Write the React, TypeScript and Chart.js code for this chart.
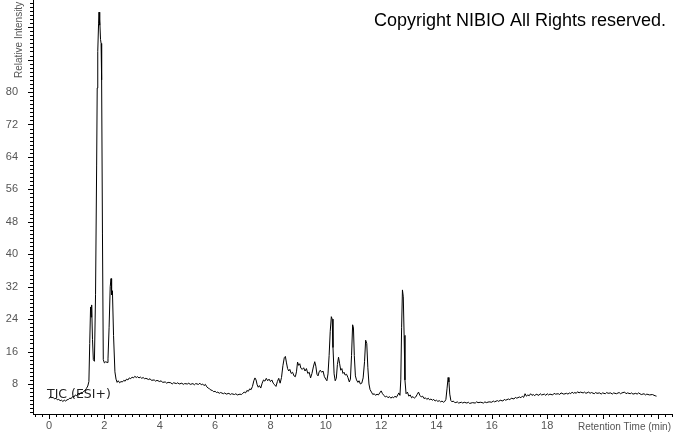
import React, { useEffect, useRef } from 'react';
import { Chart, registerables } from 'chart.js';

Chart.register(...registerables);

// [retention time (min), relative intensity]
const earlyBaseline: [number, number][] = [
  [0.0, 4.4], [0.05, 4.9], [0.1, 4.6], [0.15, 4.7], [0.2, 4.3], [0.25, 4.5], [0.3, 4.1], [0.35, 4.2],
  [0.4, 3.9], [0.45, 4.0], [0.5, 3.7], [0.55, 4.0], [0.6, 3.8], [0.65, 4.1], [0.7, 4.2], [0.75, 4.5],
  [0.8, 4.4], [0.85, 4.9], [0.9, 4.8], [0.95, 5.3], [1.0, 5.1], [1.05, 5.6], [1.1, 5.4], [1.15, 5.9],
  [1.2, 5.8], [1.25, 6.2], [1.3, 6.4], [1.35, 6.9], [1.4, 7.5],
];

const mainPeaks: [number, number][] = [
  [1.44, 8.6], [1.47, 18], [1.5, 27.0], [1.52, 24.5], [1.54, 27.5], [1.57, 19], [1.6, 14.0], [1.64, 13.6],
  [1.68, 30], [1.72, 62], [1.74, 81], [1.76, 90], [1.79, 97], [1.805, 99.7], [1.82, 96.5], [1.84, 98],
  [1.86, 93], [1.88, 92], [1.9, 83], [1.93, 45], [1.96, 14], [2.0, 13.2], [2.05, 13.5], [2.1, 13.3],
  [2.13, 14.2], [2.17, 22], [2.21, 32], [2.24, 34], [2.26, 30], [2.29, 31], [2.33, 20], [2.38, 11], [2.42, 9.2],
];

const broadHump: [number, number][] = [
  [2.46, 8.4], [2.5, 8.8], [2.55, 8.3], [2.6, 8.6], [2.65, 8.5], [2.7, 8.9], [2.75, 8.7], [2.8, 9.2],
  [2.85, 9.0], [2.9, 9.5], [2.95, 9.3], [3.0, 9.7], [3.05, 9.5], [3.1, 9.9], [3.15, 9.6], [3.2, 9.8],
  [3.25, 9.5], [3.3, 9.7], [3.35, 9.4], [3.4, 9.6], [3.45, 9.3], [3.5, 9.4], [3.6, 9.1], [3.65, 9.3],
  [3.7, 8.9], [3.8, 9.0], [3.85, 8.7], [3.9, 8.9], [4.0, 8.6], [4.05, 8.8], [4.1, 8.4], [4.2, 8.5],
  [4.25, 8.2], [4.3, 8.4], [4.4, 8.3], [4.45, 8.0], [4.5, 8.3], [4.6, 8.1], [4.65, 8.3], [4.7, 8.0],
  [4.8, 8.2], [4.85, 7.9], [4.9, 8.1], [5.0, 8.0], [5.05, 8.2], [5.1, 7.9], [5.2, 8.1], [5.25, 7.8],
  [5.3, 8.1], [5.4, 7.9], [5.45, 8.2], [5.5, 7.8], [5.55, 8.0], [5.6, 7.6], [5.65, 7.9], [5.7, 7.3],
  [5.75, 7.0], [5.8, 6.8], [5.85, 6.5], [5.9, 6.4], [5.95, 6.1], [6.0, 6.2], [6.05, 5.9], [6.1, 6.0],
  [6.15, 5.7], [6.2, 5.9], [6.3, 5.6], [6.35, 5.8], [6.4, 5.5], [6.5, 5.7], [6.55, 5.4], [6.6, 5.6],
  [6.7, 5.4], [6.75, 5.6], [6.8, 5.3], [6.9, 5.5], [6.95, 5.4], [7.0, 5.7],
];

const peakCluster: [number, number][] = [
  [7.05, 6.0], [7.1, 5.8], [7.15, 6.4], [7.2, 6.2], [7.25, 6.8], [7.3, 6.6], [7.35, 7.4], [7.4, 8.8],
  [7.44, 9.5], [7.48, 9.0], [7.52, 7.8], [7.56, 7.2], [7.6, 7.6], [7.65, 7.0], [7.7, 8.2], [7.75, 9.0],
  [7.8, 8.7], [7.85, 9.4], [7.9, 8.8], [7.95, 9.2], [8.0, 8.6], [8.05, 9.0], [8.1, 8.2], [8.15, 7.8],
  [8.2, 7.4], [8.25, 8.6], [8.3, 9.4], [8.35, 8.2], [8.4, 9.6], [8.45, 12.5], [8.5, 14.5], [8.54, 14.8],
  [8.58, 13.2], [8.62, 11.8], [8.66, 11.2], [8.7, 11.6], [8.75, 10.6], [8.8, 10.9], [8.85, 10.0], [8.9, 9.8],
  [8.94, 11.0], [8.98, 13.4], [9.02, 12.6], [9.06, 13.0], [9.1, 11.9], [9.15, 11.6], [9.2, 12.0], [9.25, 11.2],
  [9.3, 11.8], [9.35, 10.6], [9.4, 10.9], [9.45, 9.5], [9.5, 10.6], [9.55, 12.2], [9.6, 13.5], [9.64, 12.4],
  [9.68, 10.4], [9.72, 10.0], [9.76, 11.0], [9.8, 11.4], [9.85, 10.9], [9.9, 11.2], [9.95, 9.8], [10.0, 9.2],
  [10.04, 8.8], [10.08, 10.5], [10.12, 15.0], [10.16, 21.0], [10.2, 24.6], [10.23, 24.0], [10.26, 17.0], [10.3, 10.5],
  [10.34, 8.8], [10.38, 9.4], [10.42, 12.8], [10.46, 14.6], [10.5, 13.0], [10.54, 11.4], [10.58, 11.8], [10.62, 10.6],
  [10.66, 10.9], [10.7, 10.2], [10.75, 10.4], [10.8, 9.6], [10.85, 8.5], [10.89, 9.2], [10.93, 15.0], [10.97, 22.6],
  [11.0, 21.8], [11.03, 15.0], [11.07, 10.0], [11.11, 9.0], [11.16, 8.4], [11.2, 8.8], [11.25, 8.0], [11.3, 8.2],
  [11.35, 9.5], [11.4, 13.5], [11.44, 18.8], [11.48, 18.0], [11.52, 12.0], [11.56, 8.0], [11.6, 6.6], [11.65, 6.0],
  [11.7, 5.4], [11.75, 5.6], [11.8, 5.2], [11.85, 5.5], [11.9, 5.3], [11.95, 5.8], [12.0, 6.3],
];

const latePeaks: [number, number][] = [
  [12.05, 5.6], [12.1, 5.2], [12.15, 4.8], [12.2, 5.0], [12.25, 4.6], [12.3, 4.9], [12.35, 4.5], [12.4, 4.8],
  [12.45, 4.6], [12.5, 5.0], [12.55, 4.7], [12.6, 5.3], [12.64, 5.8], [12.68, 5.2], [12.71, 9.0], [12.74, 22.0],
  [12.77, 31.2], [12.8, 29.5], [12.83, 20.0], [12.86, 9.0], [12.9, 5.6], [12.95, 6.0], [13.0, 5.0], [13.05, 5.3],
  [13.1, 4.6], [13.15, 4.9], [13.2, 4.5], [13.25, 4.8], [13.3, 5.4], [13.35, 6.0], [13.4, 5.2], [13.45, 4.8],
  [13.5, 5.0], [13.55, 4.4], [13.6, 4.6], [13.65, 4.2], [13.7, 4.5], [13.75, 4.1], [13.8, 4.3], [13.85, 4.0],
  [13.9, 4.2], [13.95, 3.8], [14.0, 4.0], [14.05, 3.7], [14.1, 3.9], [14.15, 3.6], [14.2, 3.8], [14.25, 3.5],
  [14.3, 3.7], [14.34, 4.2], [14.38, 6.8], [14.42, 9.6], [14.45, 8.5], [14.48, 5.5], [14.52, 3.9], [14.56, 3.6],
  [14.6, 3.8], [14.65, 3.5],
];

const lateBaseline: [number, number][] = [
  [14.7, 3.4], [14.75, 3.6], [14.8, 3.3], [14.9, 3.5], [14.95, 3.3], [15.0, 3.5], [15.1, 3.3], [15.15, 3.5],
  [15.2, 3.2], [15.3, 3.4], [15.4, 3.3], [15.45, 3.6], [15.5, 3.4], [15.6, 3.5], [15.7, 3.3], [15.75, 3.6],
  [15.8, 3.4], [15.9, 3.6], [16.0, 3.5], [16.05, 3.8], [16.1, 3.6], [16.2, 3.9], [16.25, 3.7], [16.3, 4.0],
  [16.4, 3.8], [16.45, 4.2], [16.5, 4.0], [16.6, 4.3], [16.65, 4.1], [16.7, 4.5], [16.8, 4.3], [16.85, 4.7],
  [16.9, 4.5], [17.0, 4.8], [17.05, 4.6], [17.1, 5.0], [17.15, 4.7], [17.2, 5.6], [17.25, 5.0], [17.3, 5.3],
  [17.35, 5.1], [17.4, 5.6], [17.45, 5.2], [17.5, 5.4], [17.55, 5.1], [17.6, 5.5], [17.7, 5.2], [17.75, 5.6],
  [17.8, 5.3], [17.9, 5.5], [17.95, 5.2], [18.0, 5.6], [18.05, 5.3], [18.1, 5.5], [18.2, 5.3], [18.25, 5.7],
  [18.3, 5.5], [18.4, 5.6], [18.45, 5.4], [18.5, 5.8], [18.6, 5.5], [18.7, 5.7], [18.75, 5.5], [18.8, 5.8],
  [18.85, 5.6], [18.9, 6.0], [18.95, 5.7], [19.0, 5.9], [19.05, 5.7], [19.1, 6.1], [19.15, 5.8], [19.2, 6.0],
  [19.3, 5.8], [19.35, 6.0], [19.4, 5.7], [19.5, 6.0], [19.55, 5.7], [19.6, 5.9], [19.7, 5.6], [19.75, 5.9],
  [19.8, 5.7], [19.9, 5.8], [19.95, 5.5], [20.0, 5.8], [20.1, 5.6], [20.15, 5.9], [20.2, 5.7], [20.3, 5.8],
  [20.35, 5.5], [20.4, 5.8], [20.5, 5.6], [20.6, 5.9], [20.65, 5.6], [20.7, 5.8], [20.8, 6.0], [20.85, 5.6],
  [20.9, 5.8], [21.0, 5.6], [21.05, 5.8], [21.1, 5.5], [21.2, 5.7], [21.25, 5.5], [21.3, 5.8], [21.4, 5.4],
  [21.5, 5.6], [21.55, 5.3], [21.6, 5.5], [21.7, 5.3], [21.8, 5.4], [21.9, 5.1], [21.95, 5.0],
];

const xTickLabels = [0, 2, 4, 6, 8, 10, 12, 14, 16, 18];
const yTickLabels = [8, 16, 24, 32, 40, 48, 56, 64, 72, 80];
const xAxisTitle = 'Retention Time (min)';
const yAxisTitle = 'Relative Intensity';
const traceLabel = 'TIC (ESI+)';
const copyrightText = 'Copyright NIBIO All Rights reserved.';

const X_MIN = -0.58;
const X_MAX = 22.51;
const Y_MIN = 0.6;
const Y_MAX = 102.7;

const overlayPlugin = {
  id: 'overlay',
  beforeDatasetsDraw(chart: any) {
    const { ctx } = chart;
    ctx.save();
    ctx.font = '12.5px "DejaVu Sans", sans-serif';
    ctx.fillStyle = '#222';
    ctx.textAlign = 'left';
    ctx.textBaseline = 'alphabetic';
    ctx.fillText(traceLabel, 47, 398);
    ctx.restore();
  },
  afterDraw(chart: any) {
    const { ctx, chartArea } = chart;
    const x = chart.scales.x;
    const y = chart.scales.y;
    ctx.save();
    ctx.strokeStyle = '#000';
    ctx.lineWidth = 1;
    ctx.beginPath();
    for (let i = -2; i <= 92; i++) {
      const v = i * 0.25;
      if (v < x.min || v > x.max) continue;
      const px = Math.round(x.getPixelForValue(v)) + 0.5;
      const len = i % 8 === 0 ? 5 : 3;
      ctx.moveTo(px, chartArea.bottom);
      ctx.lineTo(px, chartArea.bottom + len);
    }
    for (let v = 1; v <= 102; v++) {
      const py = Math.round(y.getPixelForValue(v)) + 0.5;
      const len = v % 8 === 0 ? 5 : 3;
      ctx.moveTo(chartArea.left, py);
      ctx.lineTo(chartArea.left - len, py);
    }
    ctx.stroke();

    ctx.fillStyle = '#555';
    ctx.font = '10px "Liberation Sans", Arial, sans-serif';
    ctx.textAlign = 'right';
    ctx.textBaseline = 'alphabetic';
    ctx.fillText(xAxisTitle, 671, 430);

    ctx.save();
    ctx.translate(21.5, 78);
    ctx.rotate(-Math.PI / 2);
    ctx.textAlign = 'left';
    ctx.fillText(yAxisTitle, 0, 0);
    ctx.restore();

    ctx.fillStyle = '#000';
    ctx.font = '18px "Liberation Sans", Arial, sans-serif';
    ctx.textAlign = 'right';
    ctx.fillText(copyrightText, 666, 26);
    ctx.restore();
  },
};

export default function App() {
  const canvasRef = useRef<HTMLCanvasElement | null>(null);

  useEffect(() => {
    document.body.style.margin = '0';
    const canvas = canvasRef.current;
    if (!canvas) return;
    const points = [...earlyBaseline, ...mainPeaks, ...broadHump, ...peakCluster, ...latePeaks, ...lateBaseline].map(
      ([t, v]) => ({ x: t, y: v })
    );
    const chart = new Chart(canvas, {
      type: 'line',
      data: {
        datasets: [
          {
            data: points,
            borderColor: '#000',
            borderWidth: 1,
            pointRadius: 0,
            tension: 0,
            fill: false,
          },
        ],
      },
      options: {
        responsive: false,
        animation: false,
        devicePixelRatio: 1,
        layout: { padding: { top: 0, right: 1, bottom: 0, left: 0 } },
        plugins: { legend: { display: false }, tooltip: { enabled: false }, title: { display: false } },
        scales: {
          x: {
            type: 'linear',
            min: X_MIN,
            max: X_MAX,
            grid: { display: false, drawTicks: false },
            border: { display: true, color: '#000', width: 1 },
            ticks: {
              autoSkip: false,
              maxRotation: 0,
              padding: 5,
              color: '#555',
              font: { family: '"Liberation Sans", Arial, sans-serif', size: 11 },
              callback: (v: any) => String(v),
            },
            afterBuildTicks: (scale: any) => {
              scale.ticks = xTickLabels.map((v) => ({ value: v }));
            },
            afterFit: (scale: any) => {
              scale.height = 19;
              scale.paddingLeft = 0;
              scale.paddingRight = 0;
            },
          },
          y: {
            type: 'linear',
            min: Y_MIN,
            max: Y_MAX,
            grid: { display: false, drawTicks: false },
            border: { display: true, color: '#000', width: 1 },
            ticks: {
              autoSkip: false,
              padding: 15,
              color: '#555',
              font: { family: '"Liberation Sans", Arial, sans-serif', size: 11 },
              callback: (v: any) => String(v),
            },
            afterBuildTicks: (scale: any) => {
              scale.ticks = yTickLabels.map((v) => ({ value: v }));
            },
            afterFit: (scale: any) => {
              scale.width = 33;
              scale.paddingTop = 0;
              scale.paddingBottom = 0;
            },
          },
        },
      },
      plugins: [overlayPlugin],
    });
    return () => chart.destroy();
  }, []);

  return (
    <div style={{ width: 673, height: 433, background: '#fff' }}>
      <canvas ref={canvasRef} width={673} height={433} style={{ display: 'block' }} />
    </div>
  );
}
